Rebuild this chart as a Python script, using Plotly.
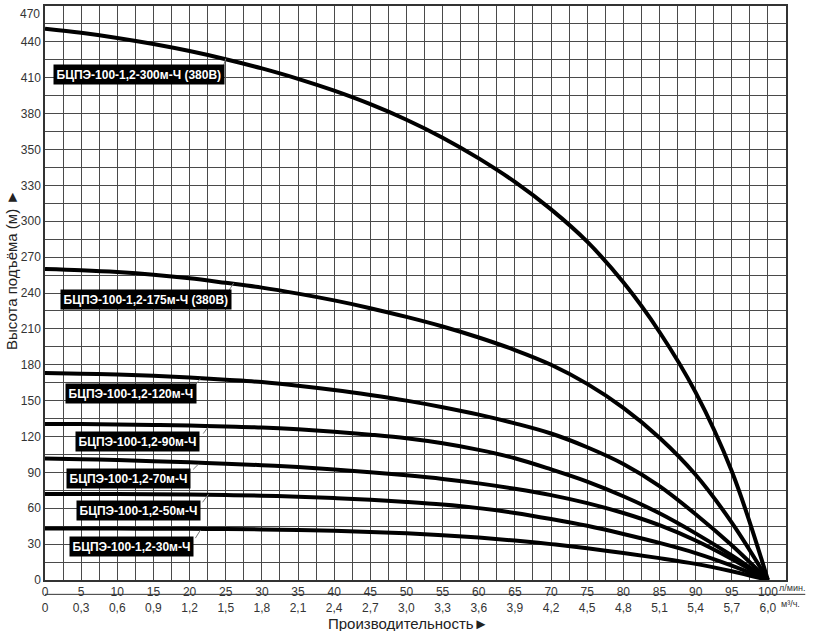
import plotly.graph_objects as go

# подача, л/мин
q_lmin = [0, 5, 10, 15, 20, 25, 30, 35, 40, 45, 50, 55, 60, 65, 70, 75, 80, 85, 90, 95, 100]

# напор по сетке графика (деления оси Y)
h_300 = [461, 457.6, 453.3, 448.2, 442.3, 435.5, 427.8, 419.1, 409.2, 397.9, 384.9,
         369.9, 352.6, 332.9, 309.9, 282.9, 248.9, 207.4, 156.9, 90.9, 0]
h_175 = [260, 259, 257.5, 255.3, 252.3, 248.5, 244.5, 239.5, 233.8, 227.3, 220,
         212, 202.8, 192.3, 180, 164, 144, 119, 88, 48, 0]
h_120 = [173, 172.5, 171.8, 170.8, 169.3, 167.5, 165.5, 162.5, 158.9, 154.7, 150,
         144.5, 138.3, 131, 122.5, 111, 97, 78.5, 55, 29, 0]
h_90 = [130.5, 130.4, 130.1, 129.7, 129.2, 128.4, 127.5, 126, 124, 121.5, 118.5,
        114.3, 108.8, 101.8, 92.5, 82.3, 70, 55.8, 39, 20.5, 0]
h_70 = [101.5, 101, 100.3, 99.4, 98.4, 97.3, 96, 94.4, 92.4, 90.1, 87.5,
        84.5, 80.8, 76.3, 71, 64.3, 56, 45.8, 33, 17.5, 0]
h_50 = [72, 72, 71.9, 71.7, 71.4, 71, 70.5, 69.7, 68.5, 67.1, 65.3,
        63.1, 60.1, 56.1, 51, 45.3, 38.5, 31, 22.5, 12, 0]
h_30 = [43, 43, 43, 42.9, 42.8, 42.6, 42.3, 41.8, 41.1, 40.2, 39,
        37.5, 35.5, 33, 30, 26.5, 22.5, 18.3, 13.5, 7.3, 0]

names = [
    "БЦПЭ-100-1,2-300м-Ч (380В)",
    "БЦПЭ-100-1,2-175м-Ч (380В)",
    "БЦПЭ-100-1,2-120м-Ч",
    "БЦПЭ-100-1,2-90м-Ч",
    "БЦПЭ-100-1,2-70м-Ч",
    "БЦПЭ-100-1,2-50м-Ч",
    "БЦПЭ-100-1,2-30м-Ч",
]
curves = [h_300, h_175, h_120, h_90, h_70, h_50, h_30]

x_tickvals = list(range(0, 101, 5))
x_ticktop = [str(v) for v in x_tickvals]
x_tickbottom = ["0", "0,3", "0,6", "0,9", "1,2", "1,5", "1,8", "2,1", "2,4", "2,7", "3,0",
                "3,3", "3,6", "3,9", "4,2", "4,5", "4,8", "5,1", "5,4", "5,7", "6,0"]

y_tickvals = list(range(0, 451, 30))
y_ticktext = ["0", "30", "60", "90", "120", "150", "180", "210", "240", "270", "300", "330",
              "350", "380", "410", "440"]
y_top_label = "470"

# положение подписей (центр плашки) и выносок
label_pos = [(13.0, 423), (14.0, 234.6), (11.9, 155.8), (12.8, 115.8), (11.5, 85), (12.9, 58.3), (11.9, 27.9)]
leaders = [((24.7, 430), (25.0, 436)), ((25.4, 241.7), (26.1, 248.3)), ((20.8, 163.3), (21.5, 168.3)),
           ((21.9, 122.5), (22.5, 127.5)), ((20.5, 92.5), (21.2, 96.7)), ((21.8, 65), (22.6, 71.7)),
           ((20.8, 35), (21.5, 41.7))]

fig = go.Figure()
for name, h in zip(names, curves):
    fig.add_trace(go.Scatter(x=q_lmin, y=h, mode="lines", name=name,
                             line=dict(color="black", width=4, shape="spline", smoothing=1),
                             cliponaxis=False))

for name, (lx, ly), (p0, p1) in zip(names, label_pos, leaders):
    fig.add_shape(type="line", x0=p0[0], y0=p0[1], x1=p1[0], y1=p1[1],
                  line=dict(color="#777", width=1))
    fig.add_annotation(x=lx, y=ly, text="<b>" + name + "</b>", showarrow=False,
                       bgcolor="black", borderpad=2.5,
                       font=dict(color="white", size=12, family="Liberation Sans, Arial"))

grid_col = "#4a4a4a"
fig.update_xaxes(range=[0, 102.5], tickmode="array", tickvals=x_tickvals,
                 ticktext=[a + "<br>" + b for a, b in zip(x_ticktop, x_tickbottom)],
                 showgrid=True, gridcolor=grid_col, gridwidth=1.3,
                 minor=dict(dtick=2.5, tick0=0, showgrid=True, gridcolor=grid_col, gridwidth=1.3),
                 showline=True, linecolor="#333", linewidth=1.5, mirror=True,
                 zeroline=False, ticks="", tickfont=dict(size=12, color="#333"))
fig.update_yaxes(range=[0, 480], tickmode="array", tickvals=y_tickvals, ticktext=y_ticktext,
                 showgrid=True, gridcolor=grid_col, gridwidth=1.3,
                 minor=dict(dtick=15, tick0=0, showgrid=True, gridcolor=grid_col, gridwidth=1.3),
                 showline=True, linecolor="#333", linewidth=1.5, mirror=True,
                 zeroline=False, ticks="", tickfont=dict(size=12, color="#333"))

# верхняя подпись оси Y прижата к краю
fig.add_annotation(xref="paper", yref="y", x=0, y=480, xanchor="right", yanchor="top",
                   xshift=-3, yshift=1, text=y_top_label, showarrow=False,
                   font=dict(size=12, color="#333"))

# линия между шкалами л/мин и м³/ч
fig.add_shape(type="line", xref="paper", yref="paper", x0=0, x1=1.026, y0=-0.025, y1=-0.025,
              line=dict(color="#333", width=1))
fig.add_annotation(xref="x", yref="paper", x=100, y=-0.002, xanchor="left", yanchor="top",
                   xshift=9, text="л/мин.", showarrow=False, font=dict(size=9, color="#333"))
fig.add_annotation(xref="x", yref="paper", x=100, y=-0.029, xanchor="left", yanchor="top",
                   xshift=11, text="м³/ч.", showarrow=False, font=dict(size=9, color="#333"))

fig.add_annotation(xref="paper", yref="paper", x=-0.046, y=0.54, text="Высота подъёма (м) ►",
                   textangle=-90, showarrow=False, xanchor="center", yanchor="middle",
                   font=dict(size=15, color="#222"))
fig.add_annotation(xref="paper", yref="paper", x=0.49, y=-0.057, text="Производительность►",
                   showarrow=False, xanchor="center", yanchor="top",
                   font=dict(size=15, color="#222"))

fig.update_layout(width=825, height=631, margin=dict(l=45, r=39, t=4, b=51),
                  plot_bgcolor="white", paper_bgcolor="white", showlegend=False,
                  font=dict(family="Liberation Sans, Arial, sans-serif"))

fig.write_html("out.html", config={"displayModeBar": False},
               post_script="document.body.style.margin='0';")
